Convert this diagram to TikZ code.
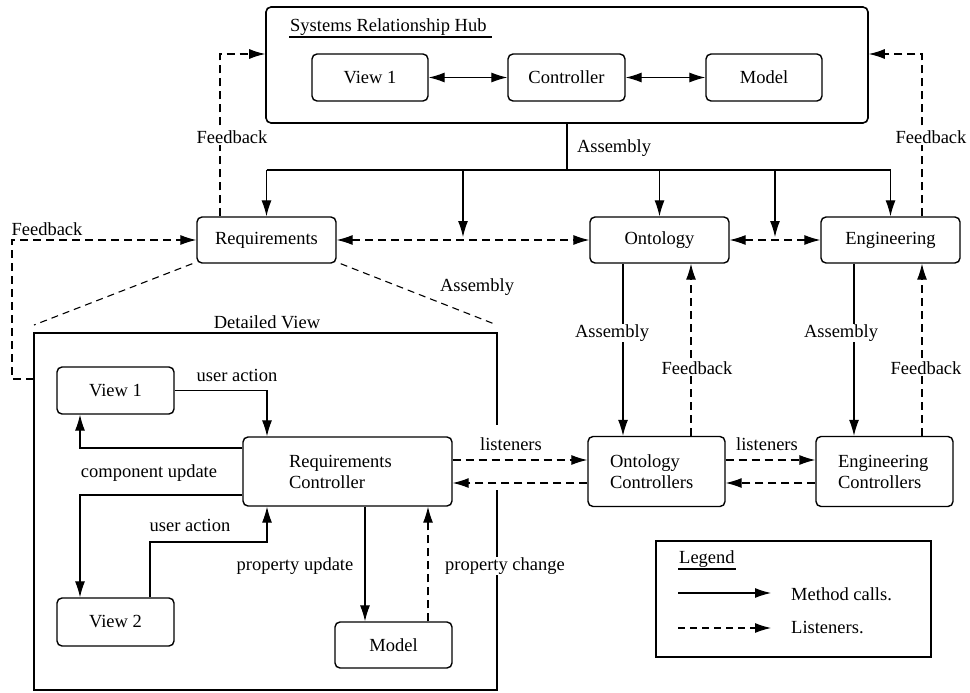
\documentclass[tikz,border=0pt]{standalone}
\usepackage{fontspec}
\setmainfont{Liberation Serif}
\usetikzlibrary{arrows.meta}
\newcommand\dfont{\fontsize{18.5}{21}\selectfont}
\begin{document}
\begin{tikzpicture}[x=1pt,y=-1pt,
  >={Latex[length=16pt,width=10pt]},
  box/.style={draw, rounded corners=5pt, line width=1.4pt, inner sep=0pt, font=\dfont},
  conn/.style={line width=1.1pt, ->},
  dsh/.style={dash pattern=on 8pt off 5pt},
  lab/.style={font=\dfont, inner sep=1pt},
  labw/.style={lab, fill=white},
]
\useasboundingbox (0,0) rectangle (970,693);

% ---------- hub ----------
\node[box, line width=1.6pt, minimum width=602pt, minimum height=116pt] (hub) at (567,65) {};
\node[lab, anchor=base west] (hubt) at (289,32) {Systems Relationship Hub};
\draw[line width=1.1pt] ([yshift=-5pt]hubt.base west) -- ++(203,0);
\node[box, minimum width=116pt, minimum height=47pt] (hv) at (370,77.5) {View 1};
\node[box, minimum width=117pt, minimum height=47pt] (hc) at (566.5,77.5) {Controller};
\node[box, minimum width=116pt, minimum height=47pt] (hm) at (764,77.5) {Model};
\draw[line width=1.1pt, <->] (hv) -- (hc);
\draw[line width=1.1pt, <->] (hc) -- (hm);

% ---------- middle row ----------
\node[box, minimum width=139pt, minimum height=46pt] (req) at (266.5,240) {Requirements};
\node[box, minimum width=139pt, minimum height=46pt] (ont) at (659.5,240) {Ontology};
\node[box, minimum width=139pt, minimum height=46pt] (eng) at (890.5,240) {Engineering};

% assembly tree
\coordinate (t0) at (567,170);
\coordinate (aL) at (266.5,170);
\coordinate (aR) at (890.5,170);
\coordinate (m1) at (463,170);
\coordinate (m2) at (775,170);
\coordinate (m1e) at (463,237);
\coordinate (m2e) at (775,237);
\draw[line width=1.1pt] (hub.south -| t0) -- (t0);
\draw[line width=1.1pt] (aL) -- (aR);
\draw[conn] (aL) -- (req.north);
\draw[conn] (m1) -- (m1e);
\draw[conn] (ont.north |- t0) -- (ont.north);
\draw[conn] (m2) -- (m2e);
\draw[conn] (aR) -- (eng.north);
\node[lab] (asm0) at (614,148) {Assembly};

\draw[line width=1.1pt, dsh, <->] (req.east) -- (ont.west);
\draw[line width=1.1pt, dsh, <->] (ont.east) -- (eng.west);

% feedback to hub
\coordinate (fbL) at (220,54);
\coordinate (fbR) at (922,54);
\draw[conn, dsh] (fbL |- req.north) -- (fbL) -- (hub.west |- fbL);
\draw[conn, dsh] (fbR |- eng.north) -- (fbR) -- (hub.east |- fbR);
\node[labw] (fbt1) at (232,137) {Feedback};
\node[labw] (fbt2) at (931,137) {Feedback};

% ---------- detailed view ----------
\node[minimum width=463pt, minimum height=357pt, inner sep=0pt] (dv) at (265.5,511.5) {};
\draw[line width=2.5pt] ([yshift=-92pt]dv.north east) -- (dv.north east) -- (dv.north west)
   -- (dv.south west) -- (dv.south east) -- ([yshift=200pt]dv.south east);
\node[lab] (dvt) at (267,322) {Detailed View};

\coordinate (tl) at (34,325);
\coordinate (tr) at (497,325);
\draw[line width=1.1pt, dash pattern=on 7pt off 5pt] ([xshift=-4pt]req.south west) -- (tl);
\draw[line width=1.1pt, dash pattern=on 7pt off 5pt] ([xshift=4pt]req.south east) -- (tr);
\node[lab] (asm1) at (477,287) {Assembly};

% left feedback
\coordinate (lf) at (12,379);
\draw[conn, dsh] (dv.west |- lf) -- (lf) -- (lf |- req.west) -- (req.west);
\node[lab] (fbt3) at (47,229) {Feedback};

\node[box, minimum width=117pt, minimum height=47pt] (v1) at (115.5,390.5) {View 1};
\node[box, minimum width=117pt, minimum height=48pt] (v2) at (115.5,622) {View 2};
\node[box, minimum height=69pt, text width=117pt, inner xsep=46pt, align=left] (rc) at (347.5,471.5) {Requirements\\Controller};
\node[box, minimum width=117pt, minimum height=46pt] (mdl) at (393.5,645) {Model};

\coordinate (ua1) at (267,390.5);
\draw[conn] (v1.east) -- (ua1) -- (ua1 |- rc.north);
\coordinate (cu1) at (80,448);
\draw[conn] (rc.west |- cu1) -- (cu1) -- (cu1 |- v1.south);
\coordinate (cu2) at (80,495);
\draw[conn] (rc.west |- cu2) -- (cu2) -- (cu2 |- v2.north);
\coordinate (ua2) at (150,542);
\draw[conn] (ua2 |- v2.north) -- (ua2) -- (ua1 |- ua2) -- (ua1 |- rc.south);
\coordinate (pu) at (365,0);
\draw[conn] (pu |- rc.south) -- (pu |- mdl.north);
\coordinate (pc) at (428,0);
\draw[conn, dsh] (pc |- mdl.north) -- (pc |- rc.south);

\node[lab] (ual1) at (237,375) {user action};
\node[lab] (cul) at (149,473) {component update};
\node[lab] (ual2) at (190,525) {user action};
\node[lab] (pul) at (295,566) {property update};
\node[labw] (pcl) at (505,566) {property change};

% ---------- controllers ----------
\node[box, minimum height=70pt, text width=93pt, inner xsep=22pt, align=left] (oc) at (656.5,471.5) {Ontology\\Controllers};
\node[box, minimum height=70pt, text width=93pt, inner xsep=22pt, align=left] (ec) at (884.5,471.5) {Engineering\\Controllers};

\coordinate (oa) at (623,0);
\coordinate (of) at (691,0);
\coordinate (ea) at (854,0);
\coordinate (ef) at (922,0);
\draw[conn] (oa |- ont.south) -- (oa |- oc.north);
\draw[conn, dsh] (of |- oc.north) -- (of |- ont.south);
\draw[conn] (ea |- eng.south) -- (ea |- ec.north);
\draw[conn, dsh] (ef |- ec.north) -- (ef |- eng.south);
\node[labw] (asm2) at (612,333) {Assembly};
\node[labw] (asm3) at (841,333) {Assembly};
\node[labw] (fbt4) at (697,368) {Feedback};
\node[labw] (fbt5) at (926,368) {Feedback};

\coordinate (l1) at (0,460);
\coordinate (l2) at (0,483);
\draw[conn, dsh] (rc.east |- l1) -- (oc.west |- l1);
\draw[conn, dsh] (oc.west |- l2) -- (rc.east |- l2);
\draw[conn, dsh] (oc.east |- l1) -- (ec.west |- l1);
\draw[conn, dsh] (ec.west |- l2) -- (oc.east |- l2);
\node[lab] (lis1) at (511,444) {listeners};
\node[lab] (lis2) at (767,444) {listeners};

% ---------- legend ----------
\node[draw, line width=1.4pt, minimum width=275pt, minimum height=116pt, inner sep=0pt] (lg) at (793.5,599) {};
\node[lab, anchor=base west] (lgt) at (678,563) {Legend};
\draw[line width=1.1pt] ([yshift=-6pt]lgt.base west) -- ([yshift=-6pt]lgt.base east);
\coordinate (la1) at (678,593);
\coordinate (la2) at (771,593);
\coordinate (lb1) at (678,628);
\coordinate (lb2) at (771,628);
\draw[conn] (la1) -- (la2);
\draw[conn, dash pattern=on 7pt off 5pt] (lb1) -- (lb2);
\node[lab, anchor=west] (lgm) at (790,594) {Method calls.};
\node[lab, anchor=west] (lgl) at (790,628) {Listeners.};
\end{tikzpicture}
\end{document}
